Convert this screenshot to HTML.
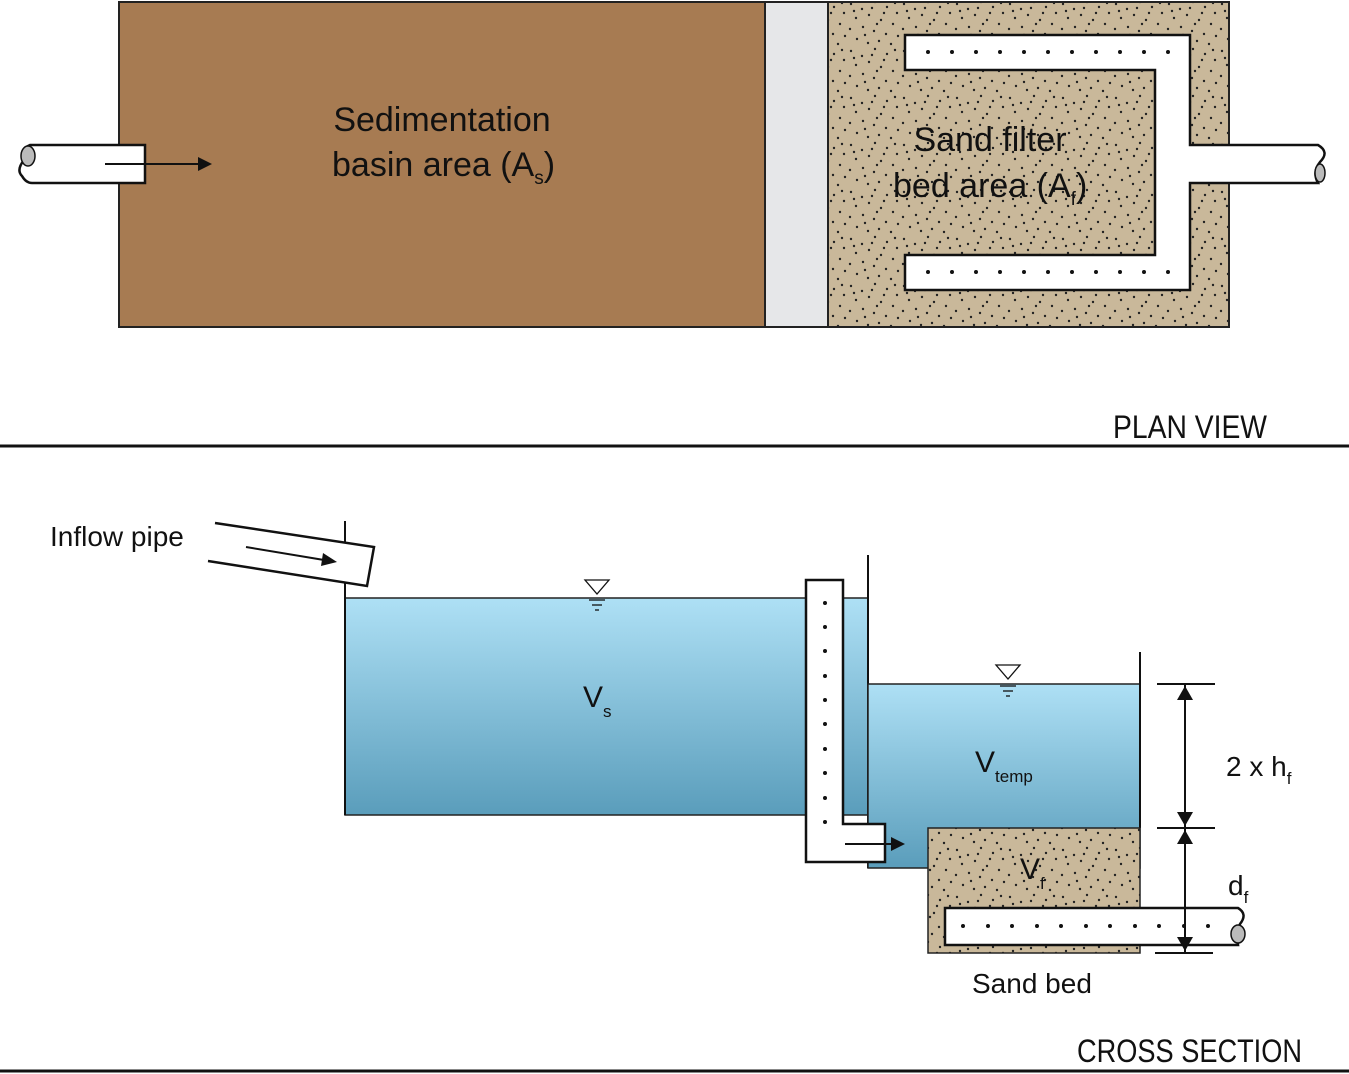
<!DOCTYPE html>
<html><head><meta charset="utf-8"><style>
html,body{margin:0;padding:0;background:#fff;}
svg{display:block;font-family:"Liberation Sans",sans-serif;}
</style></head><body>
<svg width="1349" height="1074" viewBox="0 0 1349 1074" xmlns="http://www.w3.org/2000/svg">
<defs>
<pattern id="sand" width="53" height="47" patternUnits="userSpaceOnUse">
<rect width="53" height="47" fill="#c9b89a"/>
<g fill="#222">
<circle cx="3" cy="4" r="1.2"/><circle cx="14" cy="9" r="1.2"/><circle cx="27" cy="2" r="1.2"/><circle cx="39" cy="7" r="1.2"/><circle cx="49" cy="13" r="1.2"/>
<circle cx="8" cy="18" r="1.2"/><circle cx="21" cy="15" r="1.2"/><circle cx="33" cy="20" r="1.2"/><circle cx="45" cy="24" r="1.2"/><circle cx="2" cy="29" r="1.2"/>
<circle cx="15" cy="27" r="1.2"/><circle cx="26" cy="31" r="1.2"/><circle cx="38" cy="34" r="1.2"/><circle cx="50" cy="36" r="1.2"/><circle cx="9" cy="39" r="1.2"/>
<circle cx="20" cy="43" r="1.2"/><circle cx="31" cy="41" r="1.2"/><circle cx="43" cy="44" r="1.2"/><circle cx="36" cy="13" r="1.2"/><circle cx="6" cy="11" r="1.2"/>
<circle cx="29" cy="24" r="1.2"/><circle cx="17" cy="35" r="1.2"/><circle cx="47" cy="3" r="1.2"/><circle cx="24" cy="8" r="1.2"/>
</g>
</pattern>
<linearGradient id="water" x1="0" y1="0" x2="0" y2="1">
<stop offset="0" stop-color="#aee0f5"/><stop offset="1" stop-color="#5a9dbb"/>
</linearGradient>
<linearGradient id="water2" gradientUnits="userSpaceOnUse" x1="0" y1="684" x2="0" y2="868">
<stop offset="0" stop-color="#aee0f5"/><stop offset="1" stop-color="#5a9dbb"/>
</linearGradient>
</defs>

<!-- PLAN VIEW -->
<rect x="119" y="2" width="646" height="325" fill="#a77b52" stroke="#222" stroke-width="2"/>
<rect x="765" y="2" width="63" height="325" fill="#e6e7e9" stroke="#222" stroke-width="2"/>
<rect x="828" y="2" width="401" height="325" fill="url(#sand)" stroke="#222" stroke-width="2"/>
<path d="M905,35 H1190 V145 H1318 Q1330,152 1320,162 Q1312,172 1318,183 H1190 V290 H905 V255 H1155 V70 H905 Z" fill="#fff" stroke="#111" stroke-width="2.5"/>
<ellipse cx="1320" cy="173" rx="5" ry="9" fill="#bbb" stroke="#111" stroke-width="1.5"/>
<g fill="#111">
<circle cx="928" cy="52" r="2"/><circle cx="952" cy="52" r="2"/><circle cx="976" cy="52" r="2"/><circle cx="1000" cy="52" r="2"/><circle cx="1024" cy="52" r="2"/><circle cx="1048" cy="52" r="2"/><circle cx="1072" cy="52" r="2"/><circle cx="1096" cy="52" r="2"/><circle cx="1120" cy="52" r="2"/><circle cx="1144" cy="52" r="2"/><circle cx="1168" cy="52" r="2"/>
<circle cx="928" cy="272" r="2"/><circle cx="952" cy="272" r="2"/><circle cx="976" cy="272" r="2"/><circle cx="1000" cy="272" r="2"/><circle cx="1024" cy="272" r="2"/><circle cx="1048" cy="272" r="2"/><circle cx="1072" cy="272" r="2"/><circle cx="1096" cy="272" r="2"/><circle cx="1120" cy="272" r="2"/><circle cx="1144" cy="272" r="2"/><circle cx="1168" cy="272" r="2"/>
</g>
<path d="M145,145 H30 Q18,150 24,160 Q16,170 22,176 Q26,183 32,183 H145 Z" fill="#fff" stroke="#111" stroke-width="2.5"/>
<ellipse cx="28" cy="156" rx="7" ry="10" fill="#bbb" stroke="#111" stroke-width="1.5"/>
<line x1="105" y1="164" x2="198" y2="164" stroke="#111" stroke-width="2"/>
<polygon points="212,164 198,157 198,171" fill="#111"/>
<text x="442" y="131" font-size="34" text-anchor="middle" fill="#111">Sedimentation</text>
<text x="332" y="176" font-size="34" fill="#111">basin area (A<tspan font-size="19" dy="8">s</tspan><tspan dy="-8">)</tspan></text>
<text x="990" y="151" font-size="34" text-anchor="middle" fill="#111">Sand filter</text>
<text x="893" y="197" font-size="34" fill="#111">bed area (A<tspan font-size="19" dy="8">f</tspan><tspan dy="-8">)</tspan></text>

<line x1="0" y1="446" x2="1349" y2="446" stroke="#111" stroke-width="3"/>
<text x="1113" y="438" font-size="32" fill="#111" textLength="154" lengthAdjust="spacingAndGlyphs">PLAN VIEW</text>

<!-- CROSS SECTION -->
<rect x="345" y="598" width="523" height="217" fill="url(#water)" stroke="#222" stroke-width="1.5"/>
<line x1="345" y1="521" x2="345" y2="815" stroke="#111" stroke-width="2"/>
<line x1="868" y1="555" x2="868" y2="868" stroke="#111" stroke-width="2"/>
<path d="M868,684 H1140 V868 H868 Z" fill="url(#water2)" stroke="#222" stroke-width="1.5"/>
<line x1="1140" y1="652" x2="1140" y2="828" stroke="#111" stroke-width="2"/>
<rect x="928" y="828" width="212" height="125" fill="url(#sand)" stroke="#222" stroke-width="1.5"/>
<path d="M215,523 L374,547 L367,586 L208,561" fill="#fff" stroke="#111" stroke-width="2.5"/>
<line x1="246" y1="547" x2="324" y2="560" stroke="#111" stroke-width="2"/>
<polygon points="337,562 323,553 321,566" fill="#111"/>
<text x="50" y="546" font-size="28" fill="#111">Inflow pipe</text>
<path d="M806,580 H843 V824 H885 V862 H806 Z" fill="#fff" stroke="#111" stroke-width="2.5"/>
<g fill="#111">
<circle cx="825" cy="603" r="2"/><circle cx="825" cy="627" r="2"/><circle cx="825" cy="651" r="2"/><circle cx="825" cy="676" r="2"/><circle cx="825" cy="700" r="2"/><circle cx="825" cy="724" r="2"/><circle cx="825" cy="749" r="2"/><circle cx="825" cy="773" r="2"/><circle cx="825" cy="798" r="2"/><circle cx="825" cy="822" r="2"/>
</g>
<line x1="845" y1="844" x2="892" y2="844" stroke="#111" stroke-width="2"/>
<polygon points="905,844 891,837 891,851" fill="#111"/>
<path d="M945,908 H1238 Q1248,914 1240,924 Q1236,932 1238,945 H945 Z" fill="#fff" stroke="#111" stroke-width="2.5"/>
<ellipse cx="1238" cy="934" rx="7" ry="9" fill="#bbb" stroke="#111" stroke-width="1.5"/>
<g fill="#111">
<circle cx="963" cy="926" r="2"/><circle cx="988" cy="926" r="2"/><circle cx="1012" cy="926" r="2"/><circle cx="1037" cy="926" r="2"/><circle cx="1061" cy="926" r="2"/><circle cx="1086" cy="926" r="2"/><circle cx="1110" cy="926" r="2"/><circle cx="1135" cy="926" r="2"/><circle cx="1159" cy="926" r="2"/><circle cx="1184" cy="926" r="2"/><circle cx="1208" cy="926" r="2"/>
</g>
<g stroke="#111" stroke-width="1.3" fill="#fff">
<polygon points="585,580 609,580 597,594"/>
<line x1="589" y1="600" x2="605" y2="600"/><line x1="592" y1="605" x2="602" y2="605"/><line x1="595" y1="610" x2="599" y2="610"/>
<polygon points="996,665 1020,665 1008,679"/>
<line x1="1000" y1="686" x2="1016" y2="686"/><line x1="1003" y1="691" x2="1013" y2="691"/><line x1="1006" y1="696" x2="1010" y2="696"/>
</g>
<g stroke="#111" stroke-width="2">
<line x1="1157" y1="684" x2="1215" y2="684"/>
<line x1="1157" y1="828" x2="1215" y2="828"/>
<line x1="1155" y1="953" x2="1213" y2="953"/>
<line x1="1185" y1="684" x2="1185" y2="953"/>
</g>
<g fill="#111">
<polygon points="1185,686 1177,700 1193,700"/>
<polygon points="1185,826 1177,812 1193,812"/>
<polygon points="1185,830 1177,844 1193,844"/>
<polygon points="1185,951 1177,937 1193,937"/>
</g>
<text x="1226" y="776" font-size="28" fill="#111">2 x h<tspan font-size="17" dy="8">f</tspan></text>
<text x="1228" y="895" font-size="28" fill="#111">d<tspan font-size="17" dy="8">f</tspan></text>
<text x="583" y="707" font-size="30" fill="#111">V<tspan font-size="17" dy="10">s</tspan></text>
<text x="975" y="772" font-size="30" fill="#111">V<tspan font-size="17" dy="10">temp</tspan></text>
<text x="1020" y="879" font-size="30" fill="#111">V<tspan font-size="17" dy="10">f</tspan></text>
<text x="972" y="993" font-size="28" fill="#111">Sand bed</text>

<line x1="0" y1="1071" x2="1349" y2="1071" stroke="#111" stroke-width="3"/>
<text x="1077" y="1062" font-size="32" fill="#111" textLength="225" lengthAdjust="spacingAndGlyphs">CROSS SECTION</text>
</svg>
</body></html>
